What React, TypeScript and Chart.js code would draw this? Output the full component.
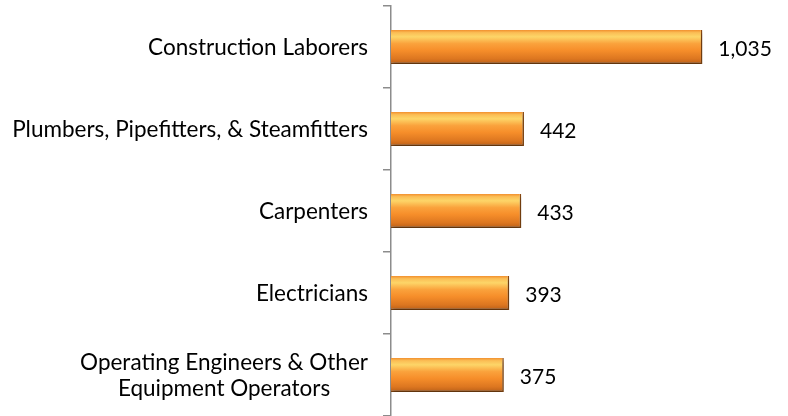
import React, { useEffect, useRef } from "react";
import { Chart, registerables } from "chart.js";

Chart.register(...registerables);

const categories: string[][] = [
  ["Construction Laborers"],
  ["Plumbers, Pipefitters, & Steamfitters"],
  ["Carpenters"],
  ["Electricians"],
  ["Operating Engineers & Other", "Equipment Operators"],
];
const values: number[] = [1035, 442, 433, 393, 375];

const FONT = "Lato, 'Open Sans', sans-serif";
const CAT_FONT_SIZE = 22.5;
const VAL_FONT_SIZE = 21;
const BAR_PCT = 0.415;

const labelsPlugin = {
  id: "customLabels",
  afterDraw(chart: any) {
    const ctx = chart.ctx;
    const yScale = chart.scales.y;
    const xScale = chart.scales.x;
    ctx.save();
    ctx.fillStyle = "#000000";
    ctx.font = `${CAT_FONT_SIZE}px ${FONT}`;
    ctx.textBaseline = "middle";
    const lineH = 26;
    const rightEdge = yScale.right - 23;
    categories.forEach((lines, i) => {
      const cy = yScale.getPixelForValue(i) + 1;
      const widths = lines.map((l) => ctx.measureText(l).width);
      const maxW = Math.max(...widths);
      const cx = rightEdge - maxW / 2;
      ctx.textAlign = "center";
      lines.forEach((l, j) => {
        const y = cy + (j - (lines.length - 1) / 2) * lineH;
        ctx.fillText(l, cx, y);
      });
    });
    ctx.font = `${VAL_FONT_SIZE}px ${FONT}`;
    ctx.textAlign = "left";
    values.forEach((v, i) => {
      const x = xScale.getPixelForValue(v) + 16;
      const y = yScale.getPixelForValue(i) + 2;
      ctx.fillText(v.toLocaleString("en-US"), x, y);
    });
    ctx.restore();
  },
};

const shadowPlugin = {
  id: "barShadow",
  beforeDatasetsDraw(chart: any) {
    const ctx = chart.ctx;
    ctx.save();
    ctx.shadowColor = "rgba(0,0,0,0.35)";
    ctx.shadowBlur = 4;
    ctx.shadowOffsetX = 1;
    ctx.shadowOffsetY = 3;
  },
  afterDatasetsDraw(chart: any) {
    chart.ctx.restore();
  },
};

export default function App() {
  const canvasRef = useRef<HTMLCanvasElement | null>(null);

  useEffect(() => {
    if (!canvasRef.current) return;
    const chart = new Chart(canvasRef.current, {
      type: "bar",
      data: {
        labels: categories.map((c) => c.join(" ")),
        datasets: [
          {
            data: values,
            backgroundColor: (context: any) => {
              const chartObj = context.chart;
              const ys = chartObj.scales?.y;
              if (!ys || context.dataIndex == null) return "#F7922E";
              const band = Math.abs(ys.getPixelForValue(1) - ys.getPixelForValue(0));
              if (!isFinite(band) || band === 0) return "#F7922E";
              const cy = ys.getPixelForValue(context.dataIndex);
              const h = band * BAR_PCT;
              const top = cy - h / 2;
              const g = chartObj.ctx.createLinearGradient(0, top, 0, top + h);
              g.addColorStop(0, "#F2902E");
              g.addColorStop(0.08, "#FBBE55");
              g.addColorStop(0.2, "#FDD568");
              g.addColorStop(0.4, "#FAA23C");
              g.addColorStop(0.6, "#F68E2A");
              g.addColorStop(0.85, "#DC7620");
              g.addColorStop(1, "#B95F18");
              return g;
            },
            borderColor: "#8E4C12",
            borderWidth: { top: 0, right: 1.5, bottom: 1.5, left: 0 },
            borderSkipped: false,
            barPercentage: BAR_PCT,
            categoryPercentage: 1,
          },
        ],
      },
      options: {
        indexAxis: "y",
        responsive: false,
        animation: false,
        devicePixelRatio: 1,
        layout: { padding: { top: 6, right: 36, bottom: 0, left: 0 } },
        plugins: {
          legend: { display: false },
          tooltip: { enabled: false },
        },
        scales: {
          x: {
            display: false,
            min: 0,
            max: 1200,
          },
          y: {
            position: "left",
            offset: true,
            grid: {
              display: true,
              offset: true,
              drawOnChartArea: false,
              drawTicks: true,
              tickLength: 8,
              color: "#8C8C8C",
              lineWidth: 1.5,
            },
            border: { display: true, color: "#8C8C8C", width: 1.5 },
            ticks: { display: false },
            afterFit: (scale: any) => {
              scale.width = 391;
            },
          },
        },
      },
      plugins: [shadowPlugin, labelsPlugin],
    } as any);
    return () => chart.destroy();
  }, []);

  return (
    <canvas
      ref={canvasRef}
      width={788}
      height={416}
      style={{ position: "absolute", left: 0, top: 0, display: "block" }}
    />
  );
}
